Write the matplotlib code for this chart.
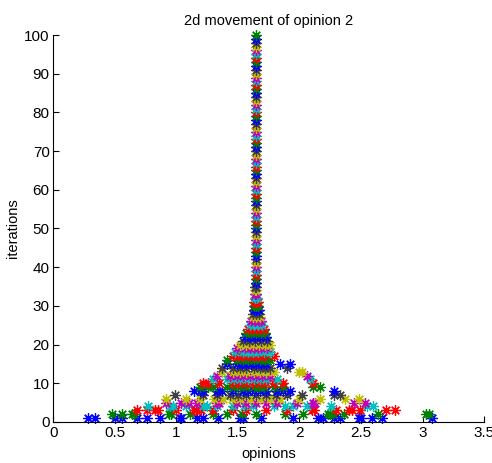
import matplotlib
matplotlib.use("Agg")
import matplotlib.pyplot as plt

# ---- data: opinions of the agents at each iteration ----
row_01 = [0.28, 0.34, 0.50, 0.56, 0.68, 0.76, 0.87, 1.03, 1.04, 1.17, 1.22, 1.34, 1.52, 1.54,
          1.69, 1.95, 2.15, 2.19, 2.28, 2.33, 2.48, 2.50, 2.59, 2.67, 3.08]
row_02 = [0.48, 0.56, 0.64, 0.66, 0.94, 0.96, 1.11, 1.30, 1.41, 1.53, 1.65, 1.88, 2.03, 2.23,
          2.25, 2.27, 2.36, 2.64, 3.03, 3.05]
row_03 = [0.68, 0.76, 0.83, 0.85, 1.00, 1.14, 1.16, 1.20, 1.30, 1.46, 1.57, 1.73, 1.90, 2.10,
          2.12, 2.30, 2.40, 2.43, 2.49, 2.70, 2.78]
row_04 = [0.77, 0.95, 0.97, 1.08, 1.22, 1.25, 1.33, 1.46, 1.55, 1.62, 1.79, 1.88, 1.95, 2.06,
          2.26, 2.55, 2.60]
row_05 = [0.92, 1.04, 1.10, 1.17, 1.33, 1.35, 1.49, 1.57, 1.65, 1.73, 1.82, 1.98, 2.11, 2.13,
          2.44, 2.53]
row_06 = [0.92, 1.08, 1.19, 1.31, 1.38, 1.45, 1.52, 1.60, 1.68, 1.76, 1.84, 2.00, 2.17, 2.37,
          2.48]
row_07 = [0.99, 1.22, 1.33, 1.44, 1.50, 1.57, 1.65, 1.73, 1.81, 1.90, 2.02, 2.28, 2.33]
row_08 = [1.14, 1.19, 1.22, 1.33, 1.37, 1.46, 1.54, 1.58, 1.63, 1.68, 1.73, 1.82, 1.87, 1.92,
          2.28]
row_09 = [1.19, 1.26, 1.30, 1.41, 1.47, 1.52, 1.57, 1.63, 1.67, 1.71, 1.79, 1.87, 2.11, 2.17]
row_10 = [1.22, 1.26, 1.35, 1.46, 1.51, 1.57, 1.62, 1.68, 1.73, 1.79, 1.87, 2.11]
row_11 = [1.30, 1.41, 1.47, 1.52, 1.58, 1.63, 1.68, 1.73, 1.82, 2.09]
row_12 = [1.33, 1.44, 1.49, 1.54, 1.60, 1.65, 1.70, 1.76, 2.06]
row_13 = [1.37, 1.46, 1.52, 1.57, 1.63, 1.68, 1.73, 1.79, 2.00, 2.02]
row_14 = [1.37, 1.46, 1.52, 1.57, 1.63, 1.68, 1.72, 1.76, 1.90]
row_15 = [1.41, 1.49, 1.53, 1.57, 1.61, 1.65, 1.69, 1.73, 1.84, 1.92]
row_16 = [1.41, 1.49, 1.54, 1.58, 1.63, 1.68, 1.72, 1.76]
row_17 = [1.46, 1.50, 1.54, 1.59, 1.63, 1.67, 1.71, 1.79]
row_18 = [1.48, 1.54, 1.58, 1.62, 1.66, 1.71, 1.76]
row_19 = [1.49, 1.56, 1.60, 1.63, 1.66, 1.69, 1.74]
row_20 = [1.52, 1.57, 1.62, 1.67, 1.72, 1.76]
row_21 = [1.54, 1.59, 1.64, 1.69, 1.74]
row_22 = [1.56, 1.60, 1.64, 1.68, 1.73]
row_23 = [1.57, 1.61, 1.65, 1.69, 1.72]
row_24 = [1.58, 1.62, 1.65, 1.68, 1.71]
row_25 = [1.60, 1.63, 1.66, 1.70]
row_26 = [1.61, 1.64, 1.67, 1.69]
row_27 = [1.62, 1.645, 1.68]
row_28 = [1.62, 1.65, 1.67]
row_29 = [1.63, 1.65, 1.67]
row_30 = [1.63, 1.645, 1.66]
row_31 = [1.635, 1.65, 1.66]
row_32 = [1.64, 1.655]
row_33 = [1.64, 1.65]
row_34 = [1.64, 1.65]
row_35 = [1.64, 1.65]
converged_opinion = 1.645      # value held by every agent from iteration 36 on
n_iterations = 100

early_rows = [row_01, row_02, row_03, row_04, row_05, row_06, row_07, row_08, row_09, row_10,
              row_11, row_12, row_13, row_14, row_15, row_16, row_17, row_18, row_19, row_20,
              row_21, row_22, row_23, row_24, row_25, row_26, row_27, row_28, row_29, row_30,
              row_31, row_32, row_33, row_34, row_35]

x_ticks = [0, 0.5, 1, 1.5, 2, 2.5, 3, 3.5]
x_tick_labels = ["0", "0.5", "1", "1.5", "2", "2.5", "3", "3.5"]
y_ticks = [0, 10, 20, 30, 40, 50, 60, 70, 80, 90, 100]

# MATLAB (pre-2014) default colour order
matlab_colors = [(0, 0, 1), (0, 0.5, 0), (1, 0, 0), (0, 0.75, 0.75),
                 (0.75, 0, 0.75), (0.75, 0.75, 0), (0.25, 0.25, 0.25)]

plt.rcParams["font.family"] = ["Liberation Sans", "DejaVu Sans"]

fig = plt.figure(figsize=(4.92, 4.63), dpi=100)
ax = fig.add_axes([0.108, 0.0886, 0.876, 0.8358])

for it in range(1, n_iterations + 1):
    vals = early_rows[it - 1] if it <= len(early_rows) else [converged_opinion]
    ax.plot(vals, [it] * len(vals), linestyle="none", marker=(8, 2, 0), markersize=7.5,
            markeredgewidth=0.9, color=matlab_colors[(it - 1) % 7], clip_on=False)

ax.set_xlim(0, 3.5)
ax.set_ylim(0, 100)
ax.set_xticks(x_ticks)
ax.set_xticklabels(x_tick_labels)
ax.set_yticks(y_ticks)
for s in ("top", "right"):
    ax.spines[s].set_visible(False)
ax.tick_params(direction="in", length=4, labelsize=11, colors="black", width=0.8)
ax.tick_params(axis="y", pad=2.5)
ax.tick_params(axis="x", pad=3)
ax.set_xlabel("opinions", fontsize=10.5, labelpad=5)
ax.set_ylabel("iterations", fontsize=10.5, labelpad=3)
ax.set_title("2d movement of opinion 2", fontsize=10.5, pad=7)

fig.savefig("out.png", dpi=100)
